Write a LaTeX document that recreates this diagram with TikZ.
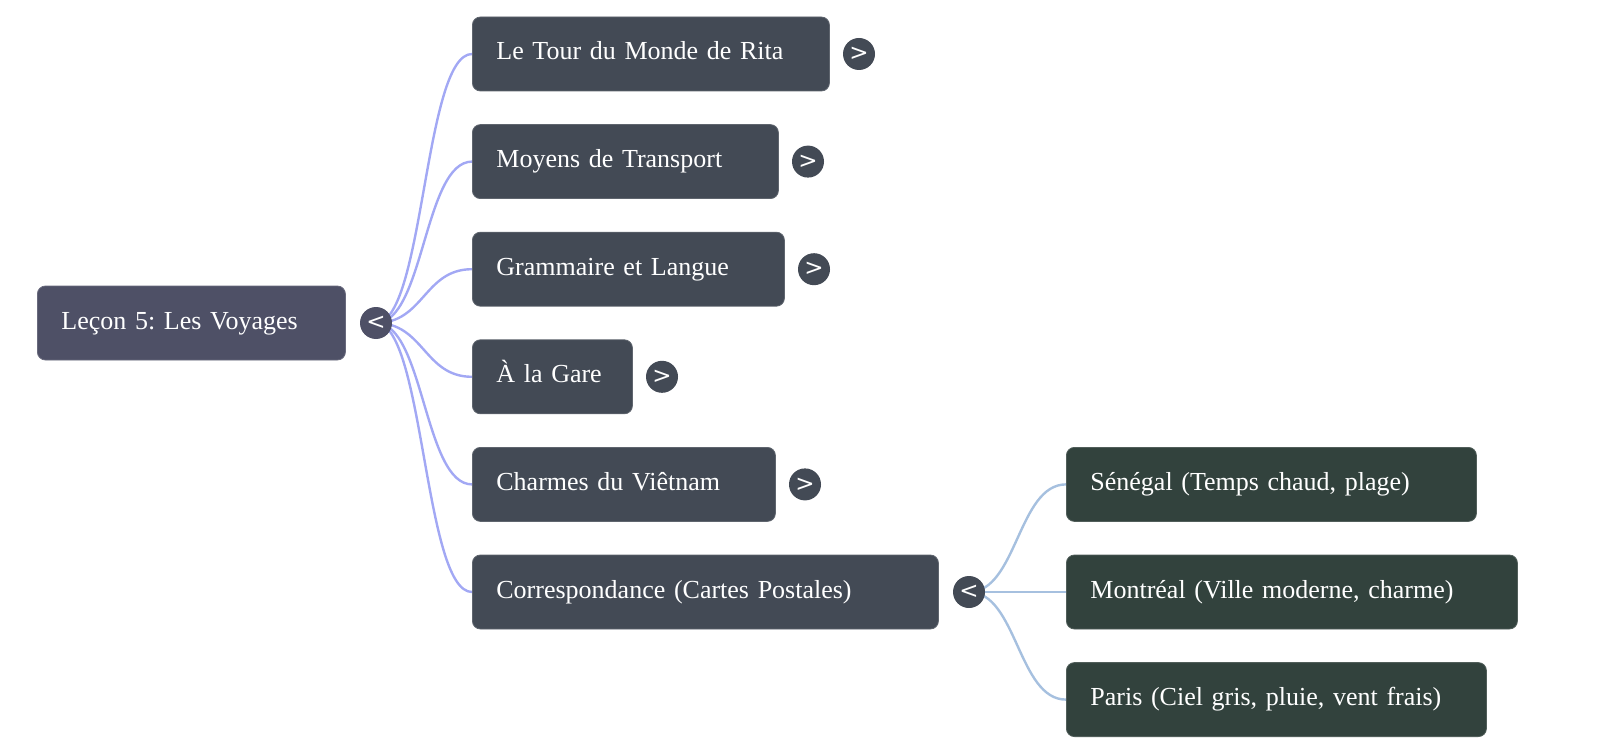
\documentclass[tikz,border=0pt]{standalone}
\usepackage{fontspec}
\setmainfont{Liberation Serif}
\newfontfamily\symfont{DejaVu Sans}
\usetikzlibrary{backgrounds}
\definecolor{rootfill}{HTML}{4E5066}
\definecolor{lonefill}{HTML}{434A55}
\definecolor{ltwofill}{HTML}{32423D}
\definecolor{lonelink}{HTML}{A2A8F4}
\definecolor{ltwolink}{HTML}{A6C0DF}
\begin{document}
\frenchspacing
\begin{tikzpicture}[x=0.5pt,y=-0.5pt,
  box/.style={rectangle, rounded corners=4pt, draw=#1!85!white, line width=0.4pt, fill=#1,
    minimum height=37pt, anchor=west, align=left, inner xsep=12pt, inner ysep=0pt,
    text height=9pt, text depth=3pt,
    text=white, font=\fontsize{13}{16}\selectfont\frenchspacing},
  circ/.style={circle, fill=#1, minimum size=16pt, inner sep=0pt, text=white,
    font=\symfont\fontsize{11.5}{11.5}\selectfont},
  lone/.style={draw=lonelink, line width=1.2pt},
  ltwo/.style={draw=ltwolink, line width=1.2pt}]
\useasboundingbox (0,0) rectangle (1600,754);

% root
\node[box=rootfill, text width=130pt] (root) at (37,323) {Leçon 5: Les Voyages};
\node[circ=rootfill] (rc) at (376,323) {<};

% level 1
\node[box=lonefill, text width=154.5pt] (a) at (472,54) {Le Tour du Monde de Rita};
\node[circ=lonefill] (ac) at (859,54) {>};
\node[box=lonefill, text width=129pt] (b) at (472,161.6) {Moyens de Transport};
\node[circ=lonefill] (bc) at (808,161.6) {>};
\node[box=lonefill, text width=132pt] (c) at (472,269.2) {Grammaire et Langue};
\node[circ=lonefill] (cc) at (814,269.2) {>};
\node[box=lonefill, text width=56pt] (d) at (472,376.8) {À la Gare};
\node[circ=lonefill] (dc) at (662,376.8) {>};
\node[box=lonefill, text width=127.5pt] (e) at (472,484.4) {Charmes du Viêtnam};
\node[circ=lonefill] (ec) at (805,484.4) {>};
\node[box=lonefill, text width=209pt] (f) at (472,592) {Correspondance (Cartes Postales)};
\node[circ=lonefill] (fc) at (969,592) {<};

% level 2
\node[box=ltwofill, text width=181pt] (g) at (1066,484.4) {Sénégal (Temps chaud, plage)};
\node[box=ltwofill, text width=201.5pt] (h) at (1066,592) {Montréal (Ville moderne, charme)};
\node[box=ltwofill, text width=186pt] (i) at (1066,699.6) {Paris (Ciel gris, pluie, vent frais)};

\begin{pgfonlayer}{background}
\foreach \t in {a,b,c,d,e,f}
  \draw[lone] (rc.center) .. controls +(48,0) and +(-48,0) .. (\t.west);
\foreach \t in {g,h,i}
  \draw[ltwo] (fc.center) .. controls +(48,0) and +(-48,0) .. (\t.west);
\end{pgfonlayer}
\end{tikzpicture}
\end{document}
